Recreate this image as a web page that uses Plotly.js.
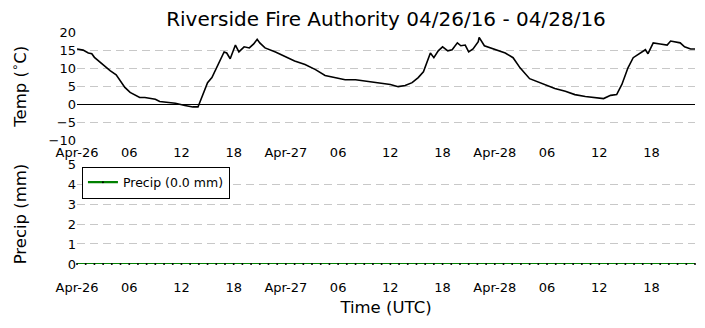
<!DOCTYPE html>
<html><head><meta charset="utf-8">
<script src="https://cdn.plot.ly/plotly-3.0.1.min.js"></script>
<style>body{margin:0;background:#fff}</style></head>
<body><div id="c" style="width:705px;height:328px"></div>
<script>
// hours since 2016-04-26 00:00 UTC
const tempHours=[0,0.7,1.3,1.7,2,2.6,3.2,3.8,4.5,5,5.5,6.1,6.7,7.2,7.8,9,9.5,10.5,11.3,12.4,13.3,13.9,14.4,15,15.5,16,16.4,16.9,17.2,17.6,18.2,18.6,19.2,19.8,20.3,20.7,21,21.6,22.8,24,25,26.2,27.4,28.5,29.7,30.8,32,33.7,34.8,36,36.9,37.7,38.5,39.2,39.8,40.6,41,41.5,42,42.6,43.1,43.7,44.1,44.6,45,45.5,46.1,46.2,46.8,47.5,48.3,49.2,50.1,50.9,52,53.2,54.4,54.9,56.1,57.2,58.4,59.5,60.5,61.3,62,62.6,63.3,63.9,64.7,65.3,65.6,66.2,67,67.8,68.2,68.7,69.3,69.8,70.5,71];
const tempValues=[15.3,15.0,14.2,14.0,13.0,11.8,10.4,9.3,8.2,6.3,4.7,3.3,2.5,1.9,1.9,1.4,0.8,0.6,0.3,-0.3,-0.7,-0.7,2.5,6.0,7.4,10.1,12.3,14.5,14.2,12.6,16.4,14.5,15.9,15.6,16.7,18.0,17.0,15.6,14.5,13.2,12.0,11.0,9.6,8.0,7.4,6.8,6.8,6.3,6.0,5.5,4.9,5.2,6.0,7.4,9.0,14.2,12.9,14.8,15.9,14.8,15.1,17.0,16.2,16.4,14.5,15.3,17.3,18.5,16.2,15.6,14.8,14.2,12.9,10.1,7.1,6.0,4.9,4.4,3.6,2.7,2.2,1.9,1.6,2.5,2.7,5.5,10.1,12.9,14.2,15.1,14.0,17.0,16.7,16.4,17.5,17.3,17.0,15.9,15.3,15.3];
const precipHours=[0,1,2,3,4,5,6,7,8,9,10,11,12,13,14,15,16,17,18,19,20,21,22,23,24,25,26,27,28,29,30,31,32,33,34,35,36,37,38,39,40,41,42,43,44,45,46,47,48,49,50,51,52,53,54,55,56,57,58,59,60,61,62,63,64,65,66,67,68,69,70,71];
const precipValues=[0,0,0,0,0,0,0,0,0,0,0,0,0,0,0,0,0,0,0,0,0,0,0,0,0,0,0,0,0,0,0,0,0,0,0,0,0,0,0,0,0,0,0,0,0,0,0,0,0,0,0,0,0,0,0,0,0,0,0,0,0,0,0,0,0,0,0,0,0,0,0,0];
const xTickHours=[0,6,12,18,24,30,36,42,48,54,60,66];
const xTickLabels=["Apr-26","06","12","18","Apr-27","06","12","18","Apr-28","06","12","18"];
const yTempTicks=[-10,-5,0,5,10,15,20];
const yTempGrid=[-5,5,10,15,20];
const yPrecipTicks=[0,1,2,3,4,5];

const base=Date.UTC(2016,3,26);
const toDate=h=>new Date(base+h*3600000).toISOString().replace('T',' ').slice(0,19);
const xRange=[toDate(0),toDate(71)];
const font='DejaVu Sans, sans-serif';

const traces=[
 {x:tempHours.map(toDate),y:tempValues,type:'scatter',mode:'lines',line:{color:'#000',width:1.6},showlegend:false,xaxis:'x',yaxis:'y'},
 {x:precipHours.map(toDate),y:precipValues,type:'scatter',mode:'lines+markers',name:'Precip (0.0 mm)',
  line:{color:'#008000',width:2.2},marker:{color:'#000',size:2},xaxis:'x2',yaxis:'y2',cliponaxis:false}
];
const xcommon={type:'date',range:xRange,tickvals:xTickHours.map(toDate),ticktext:xTickLabels,showgrid:false,zeroline:false,showline:false,ticks:'',tickfont:{size:13,color:'#000'}};
const gridStyle={gridcolor:'#c8c8c8',griddash:'8px,5px',gridwidth:1};
const layout={
 width:705,height:328,paper_bgcolor:'#fff',plot_bgcolor:'#fff',
 font:{family:font,color:'#000'},
 margin:{l:77,r:10,t:32,b:64},
 title:{text:'Riverside Fire Authority 04/26/16 - 04/28/16',font:{size:20,color:'#000'},x:0.5,xref:'paper',y:0.942,yanchor:'middle'},
 xaxis:Object.assign({},xcommon,{anchor:'y',ticklabelstandoff:2}),
 xaxis2:Object.assign({},xcommon,{anchor:'y2',ticklabelstandoff:14,title:{text:'Time (UTC)',font:{size:16.5},standoff:7}}),
 yaxis:{domain:[0.532,1],range:[-10,20],tickvals:yTempTicks,showgrid:false,
   minor:Object.assign({tickvals:yTempGrid,showgrid:true,ticks:''},gridStyle),
   zeroline:true,zerolinecolor:'#000',zerolinewidth:1,showline:false,ticks:'',tickfont:{size:13},
   title:{text:'Temp (<sup>∘</sup>C)',font:{size:16.5},standoff:17}},
 yaxis2:Object.assign({domain:[0,0.431],range:[0,5],tickvals:yPrecipTicks,showgrid:true,
   zeroline:false,showline:false,ticks:'',tickfont:{size:13},
   title:{text:'Precip (mm)',font:{size:16.5},standoff:36}},gridStyle),
 legend:{x:0.008,y:0.42,xanchor:'left',yanchor:'top',bordercolor:'#000',borderwidth:1,bgcolor:'#fff',font:{size:12.5}},
 showlegend:true
};
Plotly.newPlot('c',traces,layout,{displayModeBar:false,staticPlot:true});
</script></body></html>
